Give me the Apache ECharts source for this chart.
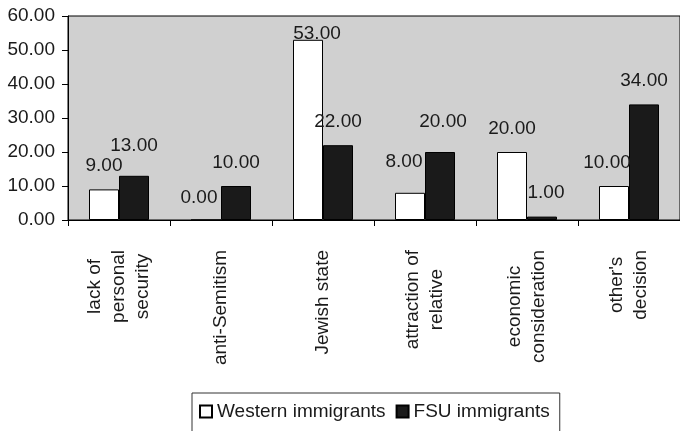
<!DOCTYPE html>
<html>
<head>
<meta charset="utf-8">
<script src="https://cdn.jsdelivr.net/npm/echarts@6/dist/echarts.min.js"></script>
<style>
  html, body { margin: 0; padding: 0; background: #fff; }
  #chart { width: 680px; height: 431px; }
</style>
</head>
<body>
<div id="chart"></div>
<script>
  // categories and values
  var categories = ['lack of\npersonal\nsecurity', 'anti-Semitism', 'Jewish state',
    'attraction of\nrelative', 'economic\nconsideration', "other's\ndecision"];
  var westernValues = [9, 0, 53, 8, 20, 10];
  var fsuValues = [13, 10, 22, 20, 1, 34];

  // small label nudges [dx, dy], like the hand placed labels in the original
  var westernNudge = [[0, 0], [-7, 2], [9, 17], [-6, -8], [0, 0], [-7, 0]];
  var fsuNudge = [[0, -7], [0, 0], [0, 0], [3, -7], [4, 0], [0, 0]];

  var font = "'Liberation Sans', Arial, Helvetica, sans-serif";
  var ink = '#1a1a1a';

  function withNudge(values, nudge) {
    return values.map(function (v, i) {
      return { value: v, label: { offset: nudge[i] } };
    });
  }

  var myChart = echarts.init(document.getElementById('chart'));
  var option = {
    animation: false,
    textStyle: { fontFamily: font },
    grid: {
      left: 68,
      top: 16,
      bottom: 211,
      right: -10,
      show: true,
      backgroundColor: '#d0d0d0',
      borderColor: '#000',
      borderWidth: 1
    },
    legend: {
      left: 192,
      top: 393,
      padding: [9, 10, 24, 7],
      itemWidth: 12,
      itemHeight: 12,
      itemGap: 10,
      selectedMode: false,
      borderColor: '#333',
      borderWidth: 1,
      icon: 'rect',
      textStyle: { fontSize: 19, color: ink, fontFamily: font },
      data: ['Western immigrants', 'FSU immigrants']
    },
    xAxis: {
      type: 'category',
      data: categories,
      axisLine: { lineStyle: { color: '#000', width: 1 } },
      axisTick: { show: true, length: 6, interval: 0, lineStyle: { color: '#000' } },
      axisLabel: {
        interval: 0,
        rotate: 90,
        margin: 30,
        color: ink,
        fontSize: 19,
        formatter: function (v) {
          return v.split('\n').map(function (s) { return '{c|' + s + '}'; }).join('\n');
        },
        rich: {
          c: { align: 'center', fontSize: 19, lineHeight: 24, color: ink, fontFamily: font }
        }
      },
      splitLine: { show: false }
    },
    yAxis: {
      type: 'value',
      min: 0,
      max: 60,
      interval: 10,
      axisLine: { show: true, lineStyle: { color: '#000', width: 1 } },
      axisTick: { show: true, length: 6, lineStyle: { color: '#000' } },
      axisLabel: {
        margin: 13,
        color: ink,
        fontSize: 19,
        formatter: function (v) { return v.toFixed(2); }
      },
      splitLine: { show: false }
    },
    series: [
      {
        name: 'Western immigrants',
        type: 'bar',
        barWidth: 30,
        barGap: '0%',
        itemStyle: { color: '#fff', borderColor: '#000', borderWidth: 1 },
        label: {
          show: true,
          position: 'top',
          distance: 14,
          fontSize: 19,
          color: ink,
          formatter: function (p) { return p.value.toFixed(2); }
        },
        data: withNudge(westernValues, westernNudge)
      },
      {
        name: 'FSU immigrants',
        type: 'bar',
        barWidth: 30,
        barGap: '0%',
        itemStyle: { color: '#1a1a1a', borderColor: '#000', borderWidth: 1 },
        label: {
          show: true,
          position: 'top',
          distance: 14,
          fontSize: 19,
          color: ink,
          formatter: function (p) { return p.value.toFixed(2); }
        },
        data: withNudge(fsuValues, fsuNudge)
      }
    ]
  };
  myChart.setOption(option);
</script>
</body>
</html>
